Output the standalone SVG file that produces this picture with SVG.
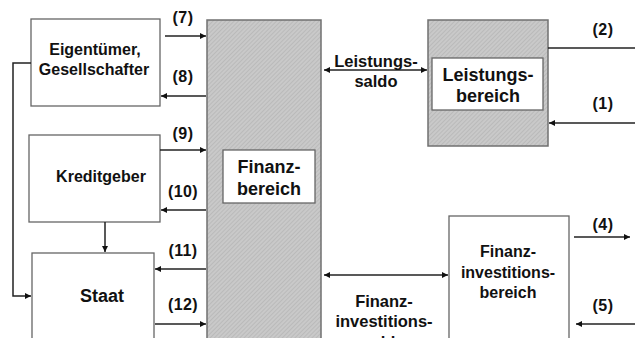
<svg xmlns="http://www.w3.org/2000/svg" width="635" height="338" viewBox="0 0 635 338">
<defs>
<pattern id="hatch" width="3" height="3" patternUnits="userSpaceOnUse" patternTransform="rotate(45)">
<rect width="3" height="3" fill="#c9c9c9"/>
<line x1="0" y1="0" x2="0" y2="3" stroke="#acacac" stroke-width="1"/>
</pattern>
<marker id="ah" viewBox="0 0 10 10" refX="10" refY="5" markerWidth="7" markerHeight="6" markerUnits="userSpaceOnUse" orient="auto-start-reverse">
<path d="M0,0 L10,5 L0,10 z" fill="#111"/>
</marker>
<style>
.box{fill:#fff;stroke:#666;stroke-width:1.3}
.shade{fill:url(#hatch);stroke:#707070;stroke-width:1.5}
.t{font-family:"Liberation Sans",Arial,sans-serif;font-weight:bold;fill:#111;text-anchor:middle}
.n{font-family:"Liberation Sans",Arial,sans-serif;font-weight:bold;fill:#111;text-anchor:middle;font-size:16px;letter-spacing:0.4px}
.c{fill:none;stroke:#222;stroke-width:1.5}
.a{fill:none;stroke:#222;stroke-width:1.5;marker-end:url(#ah)}
.d{fill:none;stroke:#222;stroke-width:1.5;marker-end:url(#ah);marker-start:url(#ah)}
</style>
</defs>
<rect width="635" height="338" fill="#fff"/>

<g id="finanzbereich">
<rect class="shade" x="207" y="20" width="114" height="330"/>
<rect class="box" x="223" y="150" width="92" height="53"/>
<text class="t" x="269" y="173" font-size="18">Finanz-</text>
<text class="t" x="269" y="195" font-size="18">bereich</text>
</g>

<g id="eigentuemer">
<rect class="box" x="31" y="19" width="129" height="87"/>
<text class="t" x="95" y="55" font-size="16">Eigentümer,</text>
<text class="t" x="94" y="75" font-size="16">Gesellschafter</text>
</g>

<g id="kreditgeber">
<rect class="box" x="29" y="135" width="131" height="87"/>
<text class="t" x="101" y="182" font-size="16">Kreditgeber</text>
</g>

<g id="staat">
<rect class="box" x="32" y="253" width="122" height="100"/>
<text class="t" x="102" y="302" font-size="18">Staat</text>
</g>

<g id="leistungsbereich">
<rect class="shade" x="428" y="20" width="120" height="126"/>
<rect class="box" x="432" y="58" width="111" height="52"/>
<text class="t" x="488" y="81" font-size="18">Leistungs-</text>
<text class="t" x="488" y="102" font-size="18">bereich</text>
</g>

<g id="finanzinvestitionsbereich">
<rect class="box" x="449" y="216" width="120" height="140"/>
<text class="t" x="508" y="257" font-size="16">Finanz-</text>
<text class="t" x="508" y="278" font-size="16">investitions-</text>
<text class="t" x="508" y="298" font-size="16">bereich</text>
</g>

<g id="connectors">
<line class="a" x1="165" y1="36" x2="206" y2="36"/>
<line class="a" x1="206" y1="96" x2="161" y2="96"/>
<line class="a" x1="160" y1="150" x2="206" y2="150"/>
<line class="a" x1="206" y1="210" x2="161" y2="210"/>
<line class="a" x1="206" y1="269" x2="155" y2="269"/>
<line class="a" x1="155" y1="324" x2="206" y2="324"/>
<line class="a" x1="105" y1="222" x2="105" y2="252"/>
<polyline class="a" points="31,63 13,63 13,296 31,296"/>
<line class="d" x1="324" y1="70" x2="427" y2="70"/>
<line class="c" x1="548" y1="48" x2="635" y2="48"/>
<line class="a" x1="635" y1="123" x2="549" y2="123"/>
<line class="d" x1="324" y1="275" x2="448" y2="275"/>
<line class="a" x1="574" y1="237" x2="630" y2="237"/>
<line class="a" x1="635" y1="324" x2="576" y2="324"/>

<text class="n" x="183" y="23">(7)</text>
<text class="n" x="183" y="82">(8)</text>
<text class="n" x="183" y="139">(9)</text>
<text class="n" x="183" y="197">(10)</text>
<text class="n" x="183" y="256">(11)</text>
<text class="n" x="183" y="310">(12)</text>
<text class="n" x="603" y="35">(2)</text>
<text class="n" x="603" y="109">(1)</text>
<text class="n" x="603" y="230">(4)</text>
<text class="n" x="603" y="311">(5)</text>

<text class="t" x="376" y="67" font-size="16.5">Leistungs-</text>
<text class="t" x="376" y="87" font-size="16.5">saldo</text>
<text class="t" x="384" y="307" font-size="16.5">Finanz-</text>
<text class="t" x="384" y="327" font-size="16.5">investitions-</text>
<text class="t" x="384" y="348" font-size="16.5">saldo</text>
</g>
</svg>
